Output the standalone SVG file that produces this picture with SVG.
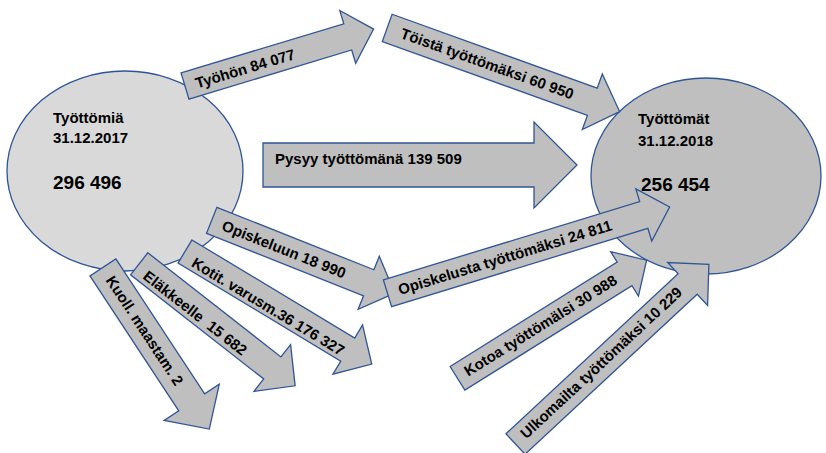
<svg xmlns="http://www.w3.org/2000/svg" width="826" height="453" viewBox="0 0 826 453">
<style>
.ell{stroke:#2f5597;stroke-width:1.3}
.arr{fill:#bfbfbf;stroke:#2f5597;stroke-width:1.3;stroke-linejoin:miter}
.t{font-family:"Liberation Sans",Arial,sans-serif;font-weight:bold;font-size:15px;fill:#000}
.big{font-size:19px}
.pre{white-space:pre}
</style>
<rect width="826" height="453" fill="#ffffff"/>
<g id="node-2017">
<ellipse class="ell" cx="125" cy="171" rx="118" ry="100" fill="#d9d9d9"/>
<text class="t" x="53" y="123">Työttömiä</text>
<text class="t" x="53" y="143">31.12.2017</text>
<text class="t big" x="53" y="189">296 496</text>
</g>
<g id="node-2018">
<ellipse class="ell" cx="706" cy="176" rx="115" ry="98" fill="#bfbfbf"/>
<text class="t" x="638" y="124">Työttömät</text>
<text class="t" x="638" y="146">31.12.2018</text>
<text class="t big" x="641" y="191">256 454</text>
</g>
<g id="connectors">
<g id="a-tyohon" transform="translate(185,86) rotate(-16.8)">
<path class="arr" d="M0,-13.7 H170 V-27.5 L197,0 L170,27.5 V13.7 H0 Z"/>
<text class="t" x="11" y="6">Työhön 84 077</text>
</g>
<g id="a-toista" transform="translate(387.2,27.9) rotate(19.8)">
<path class="arr" d="M0,-14.5 H218 V-29.5 L247,0 L218,29.5 V14.5 H0 Z"/>
<text class="t" x="15" y="5">Töistä työttömäksi 60 950</text>
</g>
<g id="a-pysyy">
<path class="arr" d="M263,143 H534 V122 L577,165 L534,208 V187 H263 Z"/>
<text class="t" x="275" y="164">Pysyy työttömänä 139 509</text>
</g>
<g id="a-opiskeluun" transform="translate(211.7,220.3) rotate(21.7)">
<path class="arr" d="M0,-14 H169 V-28.6 L197,0 L169,28.6 V14 H0 Z"/>
<text class="t" x="12" y="5.5">Opiskeluun 18 990</text>
</g>
<g id="a-opiskelusta" transform="translate(387.5,293.3) rotate(-17)">
<path class="arr" d="M0,-14 H268 V-27.2 L295,0 L268,27.2 V14 H0 Z"/>
<text class="t" x="11.5" y="5.3">Opiskelusta työttömäksi 24 811</text>
</g>
<g id="a-kotit" transform="translate(185,251.5) rotate(31.07)">
<path class="arr" d="M0,-13.5 H190 V-28.7 L218,0 L190,28.7 V13.5 H0 Z"/>
<text class="t" x="12" y="9.5">Kotit. varusm.36 176 327</text>
</g>
<g id="a-elakkeelle" transform="translate(139.2,263.8) rotate(38.04)">
<path class="arr" d="M0,-14 H169 V-29.7 L198,0 L169,29.7 V14 H0 Z"/>
<text class="t pre" x="11" y="9.5">Eläkkeelle  15 682</text>
</g>
<g id="a-kuoll" transform="translate(102.9,267.4) rotate(56.64)">
<path class="arr" d="M0,-15.5 H161.5 V-33 L193.5,0 L161.5,33 V15.5 H0 Z"/>
<text class="t" x="12" y="5">Kuoll. maastam. 2</text>
</g>
<g id="a-kotoa" transform="translate(457.5,378.3) rotate(-32)">
<path class="arr" d="M0,-13.9 H197 V-26.2 L223,0 L197,26.2 V13.9 H0 Z"/>
<text class="t" x="10" y="4.5">Kotoa työttömälsi 30 988</text>
</g>
<g id="a-ulkomailta" transform="translate(515.5,444) rotate(-42.9)">
<path class="arr" d="M0,-14 H235 V-29.3 L264,0 L235,29.3 V14 H0 Z"/>
<text class="t" x="11" y="4">Ulkomailta työttömäksi 10 229</text>
</g>
</g>
</svg>
